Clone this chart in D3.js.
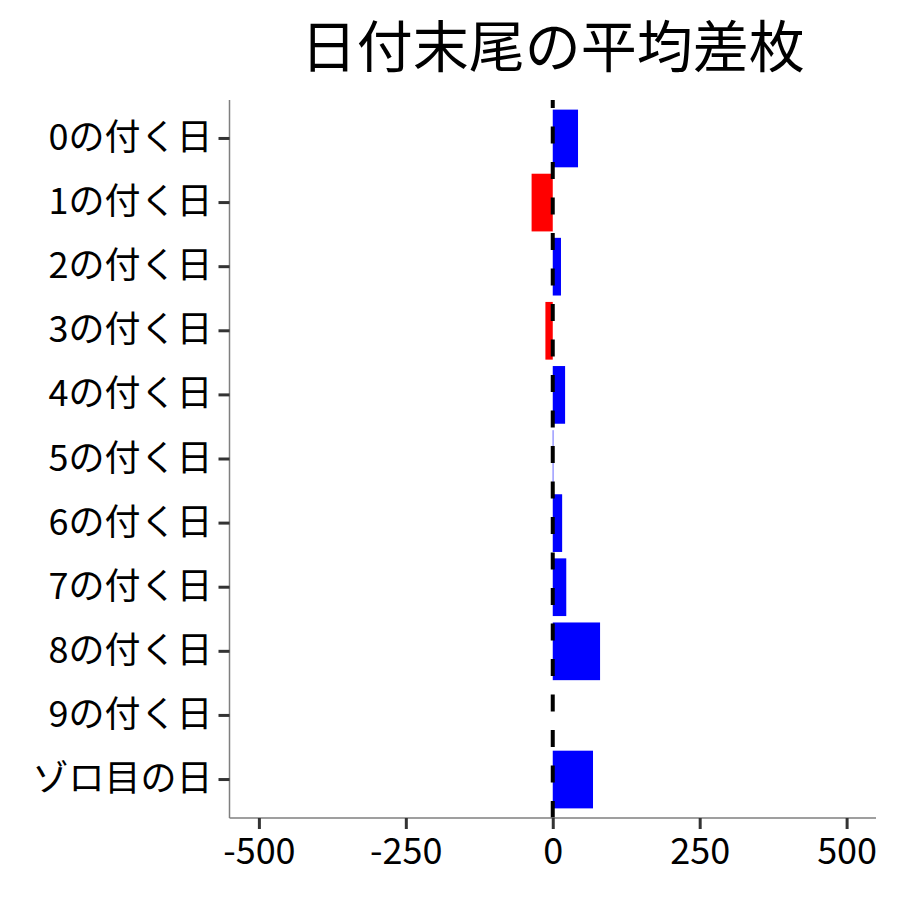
<!DOCTYPE html>
<html><head><meta charset="utf-8">
<script src="https://cdn.jsdelivr.net/npm/d3@7"></script>
<style>body{margin:0;background:#fff}</style>
</head><body>
<svg id="c" width="900" height="900"></svg>
<script>
const categories = ["0の付く日","1の付く日","2の付く日","3の付く日","4の付く日","5の付く日","6の付く日","7の付く日","8の付く日","9の付く日","ゾロ目の日"];
const values = [43, -36, 14, -12.5, 21, 1, 16, 23, 80.5, 0, 68.5];
const xTicks = [-500, -250, 0, 250, 500];
const title = "日付末尾の平均差枚";

const font = "'Noto Sans CJK JP','Noto Sans',sans-serif";
const svg = d3.select("#c");
const L = 229.5, R = 876, T = 100, B = 818;
const x = d3.scaleLinear().domain([-550, 550]).range([L, R]);
const y = d3.scaleBand().domain(categories).range([T, B]).paddingInner(0.1).paddingOuter(0.15);

svg.append("g").selectAll("rect").data(values).join("rect")
  .attr("x", d => x(Math.min(0, d)))
  .attr("width", d => Math.abs(x(d) - x(0)))
  .attr("y", (d, i) => y(categories[i]))
  .attr("height", y.bandwidth())
  .attr("fill", d => d < 0 ? "#ff0000" : "#0000ff");

svg.append("line")
  .attr("x1", x(0)).attr("x2", x(0)).attr("y1", B).attr("y2", T)
  .attr("stroke", "#000").attr("stroke-width", 4)
  .attr("stroke-dasharray", "17,18.5");

const xa = svg.append("g").attr("transform", `translate(0,${B})`)
  .call(d3.axisBottom(x).tickValues(xTicks).tickSize(11).tickPadding(9).tickFormat(d => String(d)));
const ya = svg.append("g").attr("transform", `translate(${L},0)`)
  .call(d3.axisLeft(y).tickSize(11).tickPadding(6));
[xa, ya].forEach(a => {
  a.select(".domain").attr("stroke", "#7f7f7f").attr("stroke-width", 1.5);
  a.selectAll(".tick line").attr("stroke", "#333").attr("stroke-width", 3);
  a.selectAll(".tick text").attr("fill", "#000").style("font-family", font).style("font-size", "36px");
});
xa.select(".domain").attr("d", `M${L},0H${R}`);
ya.select(".domain").attr("d", `M0,${T}V${B}`);

svg.append("text").attr("x", (L + R) / 2).attr("y", 67)
  .attr("text-anchor", "middle").style("font-family", font).style("font-size", "56px")
  .text(title);
</script>
</body></html>
